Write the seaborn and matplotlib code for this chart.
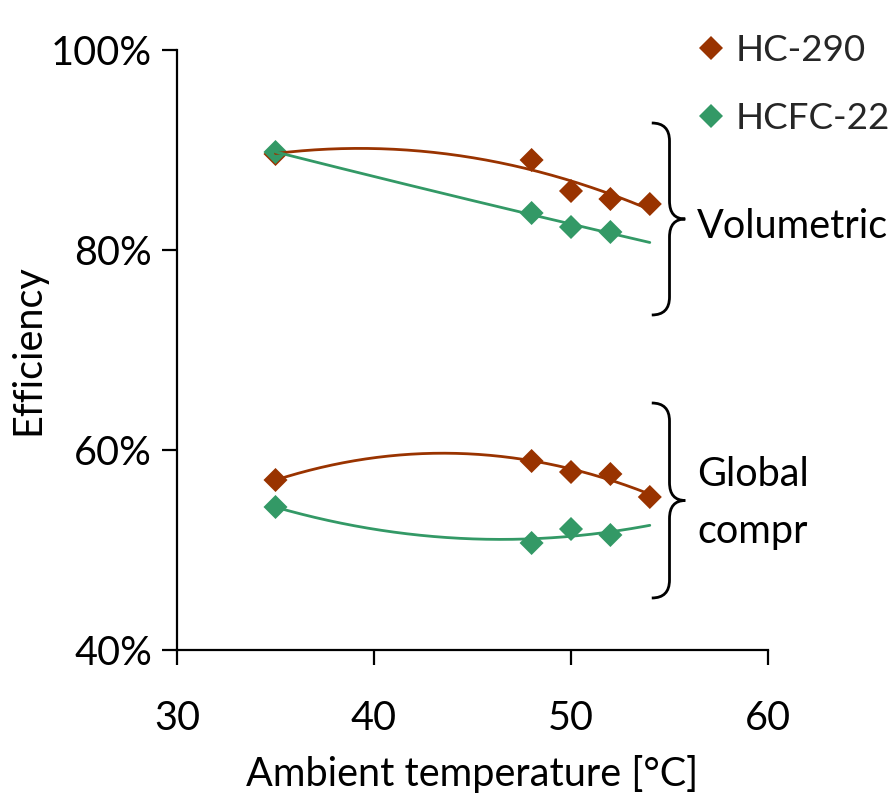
import numpy as np
import pandas as pd
import matplotlib
matplotlib.use("Agg")
import matplotlib.pyplot as plt
from matplotlib.path import Path
from matplotlib.patches import PathPatch
from matplotlib.ticker import PercentFormatter
import seaborn as sns

# ---- data ----
refrigerants = ["HC-290", "HCFC-22"]
temps_hc290 = [35, 48, 50, 52, 54]
temps_r22 = [35, 48, 50, 52]
vol_hc290 = [89.6, 89.0, 85.9, 85.1, 84.6]
vol_r22 = [89.8, 83.7, 82.3, 81.8]
glob_hc290 = [57.0, 58.9, 57.8, 57.6, 55.3]
glob_r22 = [54.3, 50.7, 52.1, 51.5]
x_ticks = [30, 40, 50, 60]
y_ticks = [40, 60, 80, 100]
trend_range = [35, 54]

colors = {"HC-290": "#993300", "HCFC-22": "#339966"}

rows = []
for t, v in zip(temps_hc290, vol_hc290):
    rows.append(("HC-290", "Volumetric", t, v))
for t, v in zip(temps_hc290, glob_hc290):
    rows.append(("HC-290", "Global", t, v))
for t, v in zip(temps_r22, vol_r22):
    rows.append(("HCFC-22", "Volumetric", t, v))
for t, v in zip(temps_r22, glob_r22):
    rows.append(("HCFC-22", "Global", t, v))
df = pd.DataFrame(rows, columns=["Refrigerant", "Metric", "Temp", "Eff"])

sns.set_theme(style="white")
plt.rcParams["font.family"] = ["Lato", "DejaVu Sans"]
FS = 28.5
FS_LEG = 26.5

fig = plt.figure(figsize=(8.91, 7.97), dpi=100)
ax = fig.add_axes([177 / 891, 147 / 797, (768 - 177) / 891, 600 / 797])

sns.scatterplot(data=df, x="Temp", y="Eff", hue="Refrigerant", hue_order=refrigerants,
                palette=colors, marker="D", s=150, linewidth=0, ax=ax, zorder=2)

# polynomial (order 2) trend lines fitted to each series
xs = np.linspace(trend_range[0], trend_range[1], 200)
for (ref, met), g in df.groupby(["Refrigerant", "Metric"]):
    coef = np.polyfit(g["Temp"], g["Eff"], 2)
    sns.lineplot(x=xs, y=np.polyval(coef, xs), color=colors[ref], linewidth=2.0,
                 ax=ax, legend=False, zorder=3)

ax.set_xlim(30, 60)
ax.set_ylim(40, 100)
ax.set_xticks(x_ticks)
ax.set_yticks(y_ticks)
ax.yaxis.set_major_formatter(PercentFormatter(xmax=100, decimals=0))
for s in ["top", "right"]:
    ax.spines[s].set_visible(False)
for s in ["left", "bottom"]:
    ax.spines[s].set_color("black")
    ax.spines[s].set_linewidth(1.6)
ax.tick_params(axis="both", which="major", length=11, width=1.6, color="black",
               labelsize=FS, labelcolor="black", direction="out",
               bottom=True, left=True)
ax.tick_params(axis="x", pad=25)
ax.tick_params(axis="y", pad=7)
ax.set_xlabel("Ambient temperature [°C]", fontsize=FS, color="black", labelpad=13)
ax.set_ylabel("Efficiency", fontsize=FS, color="black", labelpad=3)
ax.grid(False)

handles, labels = ax.get_legend_handles_labels()
leg = ax.legend(handles, labels, loc="upper left", bbox_to_anchor=(693 / 891, 1 - 34 / 797),
                bbox_transform=fig.transFigure, frameon=False, fontsize=FS_LEG,
                handletextpad=0.15, labelspacing=0.95, handlelength=1.0,
                borderaxespad=0, borderpad=0)
for h in leg.legend_handles:
    try:
        h.set_markersize(12.6)
    except AttributeError:
        h.set_sizes([160])

# braces
def brace(ax, x_end, x_vert, x_tip, y_top, y_bot, r):
    y_mid = (y_top + y_bot) / 2
    verts = [(x_end, y_top), (x_vert, y_top), (x_vert, y_top - r),
             (x_vert, y_mid + r),
             (x_vert, y_mid), (x_tip, y_mid),
             (x_vert, y_mid), (x_vert, y_mid - r),
             (x_vert, y_bot + r),
             (x_vert, y_bot), (x_end, y_bot)]
    codes = [Path.MOVETO, Path.CURVE3, Path.CURVE3,
             Path.LINETO,
             Path.CURVE3, Path.CURVE3,
             Path.CURVE3, Path.CURVE3,
             Path.LINETO,
             Path.CURVE3, Path.CURVE3]
    patch = PathPatch(Path(verts, codes), fill=False, edgecolor="black",
                      linewidth=2.0, clip_on=False)
    ax.add_patch(patch)

brace(ax, 54.1, 55.0, 55.8, 92.7, 73.5, 1.8)
brace(ax, 54.1, 55.0, 55.8, 64.7, 45.2, 1.8)

ax.text(56.4, 82.4, "Volumetric", fontsize=FS, ha="left", va="center", color="black", clip_on=False)
ax.text(56.4, 54.7, "Global\ncompr", fontsize=FS, ha="left", va="center", color="black",
        linespacing=1.7, clip_on=False)

fig.savefig("out.png", dpi=100)
